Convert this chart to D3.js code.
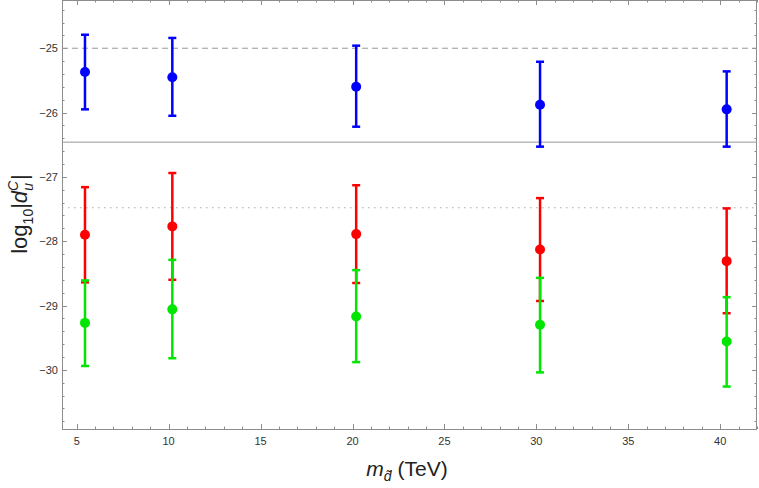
<!DOCTYPE html>
<html>
<head>
<meta charset="utf-8">
<script src="https://cdn.jsdelivr.net/npm/d3@7"></script>
<style>
  body { margin: 0; background: #fff; }
  svg { display: block; font-family: "Liberation Sans", Arial, sans-serif; }
</style>
</head>
<body>
<div id="chart"></div>
<script>
// masses (TeV) at which the points sit
var masses = [5.45, 10.2, 20.2, 30.2, 40.35];

// central values and error bar ends, one set per series
var blueMid = [-25.37, -25.45, -25.60, -25.88, -25.95];
var blueHi = [-24.79, -24.84, -24.96, -25.21, -25.36];
var blueLo = [-25.95, -26.05, -26.22, -26.53, -26.53];

var redMid = [-27.90, -27.77, -27.89, -28.13, -28.31];
var redHi = [-27.16, -26.94, -27.13, -27.33, -27.49];
var redLo = [-28.64, -28.60, -28.65, -28.93, -29.12];

var greenMid = [-29.27, -29.06, -29.17, -29.30, -29.56];
var greenHi = [-28.61, -28.29, -28.45, -28.57, -28.87];
var greenLo = [-29.94, -29.82, -29.88, -30.04, -30.26];

// horizontal reference lines
var dashedLine = -25.0;
var solidLine = -26.46;
var dottedLine = -27.48;

var xTicks = [5, 10, 15, 20, 25, 30, 35, 40];
var yTicks = [-30, -29, -28, -27, -26, -25];

var svgWidth = 759;
var svgHeight = 488;
var margin = { top: 0, right: 2, bottom: 59, left: 62 };

var x = d3.scaleLinear().domain([4.2, 42.0]).range([margin.left, svgWidth - margin.right]);
var y = d3.scaleLinear().domain([-30.92, -24.25]).range([svgHeight - margin.bottom, margin.top]);

var svg = d3.select("#chart").append("svg")
  .attr("width", svgWidth)
  .attr("height", svgHeight);

var axisColor = "#8c8c8c";
var x0 = x.range()[0], x1 = x.range()[1];
var y0 = y.range()[0], y1 = y.range()[1];

// frame
svg.append("rect")
  .attr("x", x0 + 0.5).attr("y", y1 + 0.5)
  .attr("width", x1 - x0 - 1).attr("height", y0 - y1)
  .attr("fill", "none").attr("stroke", axisColor).attr("stroke-width", 1);

// ticks (major + minor) on all four sides, pointing inward
var xMinor = d3.range(5, 42.01, 1);
var yMinor = d3.range(-30.8, -24.25, 0.2);

xMinor.forEach(function (v) {
  var major = Math.abs(v % 5) < 1e-6;
  var len = major ? 5 : 2.5;
  var px = Math.round(x(v)) + 0.5;
  svg.append("line").attr("x1", px).attr("x2", px).attr("y1", y0).attr("y2", y0 - len)
    .attr("stroke", axisColor);
  svg.append("line").attr("x1", px).attr("x2", px).attr("y1", y1).attr("y2", y1 + len)
    .attr("stroke", axisColor);
});

yMinor.forEach(function (v) {
  var major = Math.abs(v - Math.round(v)) < 1e-6;
  var len = major ? 5 : 2.5;
  var py = Math.round(y(v)) + 0.5;
  svg.append("line").attr("x1", x0).attr("x2", x0 + len).attr("y1", py).attr("y2", py)
    .attr("stroke", axisColor);
  svg.append("line").attr("x1", x1).attr("x2", x1 - len).attr("y1", py).attr("y2", py)
    .attr("stroke", axisColor);
});

// tick labels
svg.selectAll(".xlab").data(xTicks).enter().append("text")
  .attr("x", function (d) { return x(d); })
  .attr("y", y0 + 16)
  .attr("text-anchor", "middle")
  .attr("font-size", 11)
  .attr("fill", "#333")
  .text(function (d) { return d; });

svg.selectAll(".ylab").data(yTicks).enter().append("text")
  .attr("x", x0 - 4)
  .attr("y", function (d) { return y(d) + 4; })
  .attr("text-anchor", "end")
  .attr("font-size", 11)
  .attr("fill", "#333")
  .text(function (d) { return "\u2212" + Math.abs(d); });

// reference lines
svg.append("line")
  .attr("x1", x0).attr("x2", x1)
  .attr("y1", y(dashedLine)).attr("y2", y(dashedLine))
  .attr("stroke", "#999").attr("stroke-dasharray", "6,4");
svg.append("line")
  .attr("x1", x0).attr("x2", x1)
  .attr("y1", y(solidLine)).attr("y2", y(solidLine))
  .attr("stroke", "#999");
svg.append("line")
  .attr("x1", x0).attr("x2", x1)
  .attr("y1", y(dottedLine)).attr("y2", y(dottedLine))
  .attr("stroke", "#aaa").attr("stroke-dasharray", "1.5,4.5");

// series with error bars
function drawSeries(mid, hi, lo, color) {
  var g = svg.append("g");
  masses.forEach(function (m, i) {
    var px = x(m);
    g.append("line").attr("x1", px).attr("x2", px)
      .attr("y1", y(hi[i])).attr("y2", y(lo[i]))
      .attr("stroke", color).attr("stroke-width", 2.5);
    [hi[i], lo[i]].forEach(function (v) {
      g.append("line").attr("x1", px - 4).attr("x2", px + 4)
        .attr("y1", y(v)).attr("y2", y(v))
        .attr("stroke", color).attr("stroke-width", 2.5);
    });
    g.append("circle").attr("cx", px).attr("cy", y(mid[i]))
      .attr("r", 5).attr("fill", color);
  });
}

drawSeries(blueMid, blueHi, blueLo, "#0000ff");
drawSeries(redMid, redHi, redLo, "#ff0000");
drawSeries(greenMid, greenHi, greenLo, "#00e600");

// axis titles
var xt = svg.append("text")
  .attr("x", 407).attr("y", 476)
  .attr("text-anchor", "middle")
  .attr("font-size", 21)
  .attr("fill", "#222");
xt.append("tspan").attr("font-style", "italic").text("m");
xt.append("tspan").attr("font-style", "italic").attr("font-size", 14).attr("dy", 5).text("d\u0303");
xt.append("tspan").attr("dy", -5).text(" (TeV)");

var yt = svg.append("text")
  .attr("transform", "translate(27," + 214 + ") rotate(-90)")
  .attr("text-anchor", "middle")
  .attr("font-size", 22)
  .attr("fill", "#222");
yt.append("tspan").text("log");
yt.append("tspan").attr("font-size", 14).attr("dy", 6).text("10");
yt.append("tspan").attr("dy", -6).text("|");
yt.append("tspan").attr("font-style", "italic").text("d");
yt.append("tspan").attr("font-style", "italic").attr("font-size", 14).attr("dy", -9).text("C");
yt.append("tspan").attr("font-style", "italic").attr("font-size", 14).attr("dx", -10).attr("dy", 15).text("u");
yt.append("tspan").attr("dy", -6).attr("dx", 3).text("|");
</script>
</body>
</html>
